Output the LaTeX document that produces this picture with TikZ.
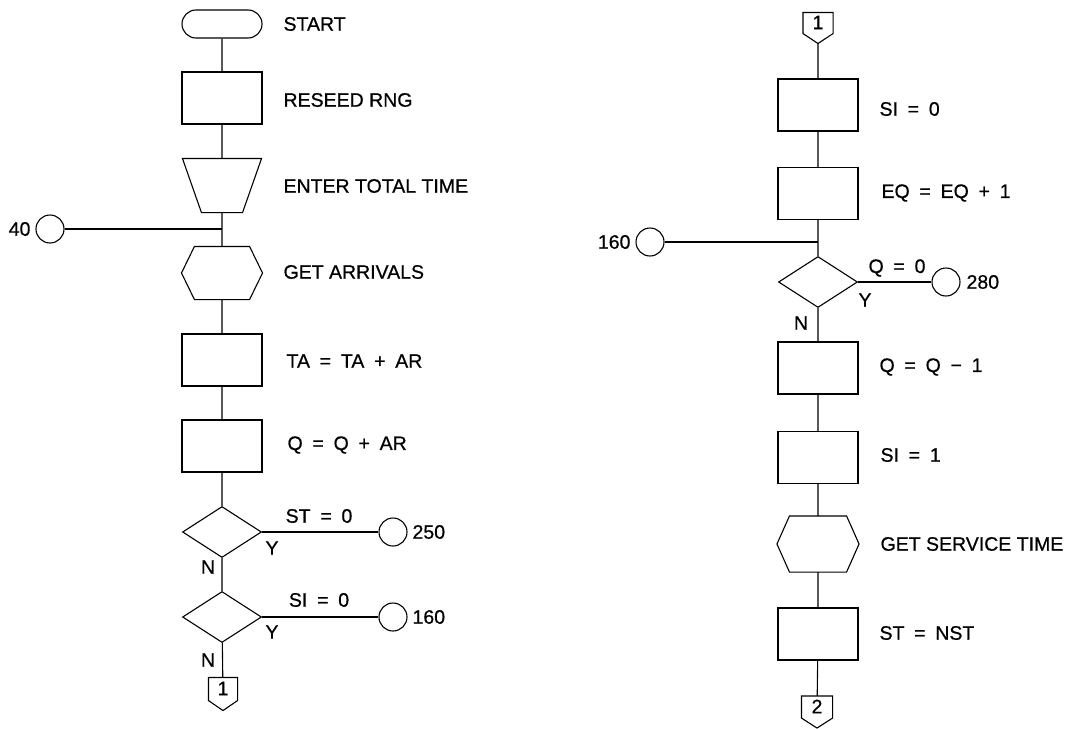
\documentclass[tikz,border=0pt]{standalone}
\usepackage{fontspec}
\setmainfont{Liberation Sans}
\newfontfamily\chartfont{Liberation Sans}[FakeBold=0.6]
\usetikzlibrary{shapes.geometric,shapes.misc}

% wide gap used inside the assignment texts
\newcommand\eqsp{\hspace{0.5em}}
% outline of a preparation (hexagon) box around an invisible frame node
\newcommand\hexoutline[2]{\draw ([xshift=#2]#1.north west) -- ([xshift=-#2]#1.north east) -- (#1.east) -- ([xshift=-#2]#1.south east) -- ([xshift=#2]#1.south west) -- (#1.west) -- cycle;}
% outline of an off-page connector around an invisible frame node
\newcommand\offpage[1]{\draw (#1.north west) -- (#1.north east) -- ([yshift=10pt]#1.south east) -- (#1.south) -- ([yshift=10pt]#1.south west) -- cycle;}

\begin{document}
\begin{tikzpicture}[x=1pt,y=-1pt,line width=1.1pt,
  every node/.style={font=\chartfont\fontsize{19.5}{21}\selectfont},
  box/.style={draw,rectangle,minimum width=80pt,minimum height=52pt,inner sep=0pt},
  term/.style={draw,rounded rectangle,minimum width=80pt,minimum height=28pt,inner sep=0pt},
  decide/.style={draw,diamond,minimum width=79pt,minimum height=51pt,inner sep=0pt},
  conn/.style={draw,circle,minimum size=28pt,inner sep=0pt},
  frame/.style={rectangle,inner sep=0pt},
  lbl/.style={anchor=west,inner sep=0pt},
  tag/.style={inner sep=0pt},
]
\useasboundingbox (0,0) rectangle (1075,728);

% ---------------- left column ----------------
\node[term] (start) at (222,24) {};
\node[lbl] (tstart) at (283,24) {START};
\node[box] (reseed) at (222,98) {};
\node[lbl] (treseed) at (283,100) {RESEED RNG};
\node[frame,minimum width=78pt,minimum height=53pt] (enter) at (222,185.5) {};
\draw (enter.north west) -- (enter.north east) -- ([xshift=-19pt]enter.south east) -- ([xshift=19pt]enter.south west) -- cycle;
\node[lbl] (tenter) at (283,186) {ENTER TOTAL TIME};
\coordinate (j1) at (222,229);
\node[conn] (c40) at (50,229) {};
\node[tag,anchor=east] (t40) at (31,229) {40};
\node[frame,minimum width=80pt,minimum height=52pt] (arr) at (222,273) {};
\hexoutline{arr}{13pt}
\node[lbl] (tarr) at (283,272) {GET ARRIVALS};
\node[box] (ta) at (222,360) {};
\node[lbl] (tta) at (286,361) {TA\eqsp=\eqsp TA\eqsp+\eqsp AR};
\node[box] (qa) at (222,446) {};
\node[lbl] (tqa) at (287,445) {Q\eqsp=\eqsp Q\eqsp+\eqsp AR};
\node[decide] (d1) at (222,532) {};
\node[conn] (c250) at (393,532) {};
\node[tag,anchor=west] (t250) at (412,532) {250};
\node[tag] (tst0) at (319,516) {ST\eqsp=\eqsp 0};
\node[tag] (y1) at (272,548) {Y};
\node[tag] (n1) at (208,567) {N};
\node[decide] (d2) at (222,617) {};
\node[conn] (c160) at (393,617) {};
\node[tag,anchor=west] (t160) at (412,617) {160};
\node[tag] (tsi0a) at (319,600) {SI\eqsp=\eqsp 0};
\node[tag] (y2) at (272,632) {Y};
\node[tag] (n2) at (208,660) {N};
\node[frame,minimum width=28pt,minimum height=32pt] (off1) at (223,694) {};
\offpage{off1}
\node[tag] (toff1) at (223,688.5) {1};

\draw (start) -- (reseed) -- (enter) -- (arr) -- (ta) -- (qa) -- (d1) -- (d2) -- (off1);
\draw (c40) -- (j1);
\draw (d1.east) -- (c250);
\draw (d2.east) -- (c160);

% ---------------- right column ----------------
\node[frame,minimum width=29pt,minimum height=30pt] (off1r) at (818,28) {};
\offpage{off1r}
\node[tag] (toff1r) at (818,22.5) {1};
\node[box] (si0) at (818,105) {};
\node[lbl] (tsi0) at (879,109) {SI\eqsp=\eqsp 0};
\node[box] (eq) at (818,193.5) {};
\node[lbl] (teq) at (881,193) {EQ\eqsp=\eqsp EQ\eqsp+\eqsp 1};
\coordinate (j2) at (818,242);
\node[conn] (c160r) at (650,242) {};
\node[tag,anchor=east] (t160r) at (631,242) {160};
\node[decide] (d3) at (818,282) {};
\node[conn] (c280) at (946,282) {};
\node[tag,anchor=west] (t280) at (966,282) {280};
\node[tag] (tq0) at (897,268) {Q\eqsp=\eqsp 0};
\node[tag] (y3) at (865,300) {Y};
\node[tag] (n3) at (801,323) {N};
\node[box] (qm) at (818,368) {};
\node[lbl] (tqm) at (879,367) {Q\eqsp=\eqsp Q\eqsp−\eqsp 1};
\node[box] (si1) at (818,457.5) {};
\node[lbl] (tsi1) at (880,455) {SI\eqsp=\eqsp 1};
\node[frame,minimum width=81pt,minimum height=55pt] (serv) at (818,544) {};
\hexoutline{serv}{12.5pt}
\node[lbl] (tserv) at (880,544) {GET SERVICE TIME};
\node[box] (stn) at (818,634) {};
\node[lbl] (tstn) at (879,633) {ST\eqsp=\eqsp NST};
\node[frame,minimum width=30pt,minimum height=31pt] (off2) at (817,712) {};
\offpage{off2}
\node[tag] (toff2) at (817,706.5) {2};

\draw (off1r) -- (si0) -- (eq) -- (d3) -- (qm) -- (si1) -- (serv) -- (stn) -- (off2);
\draw (c160r) -- (j2);
\draw (d3.east) -- (c280);
\end{tikzpicture}
\end{document}
